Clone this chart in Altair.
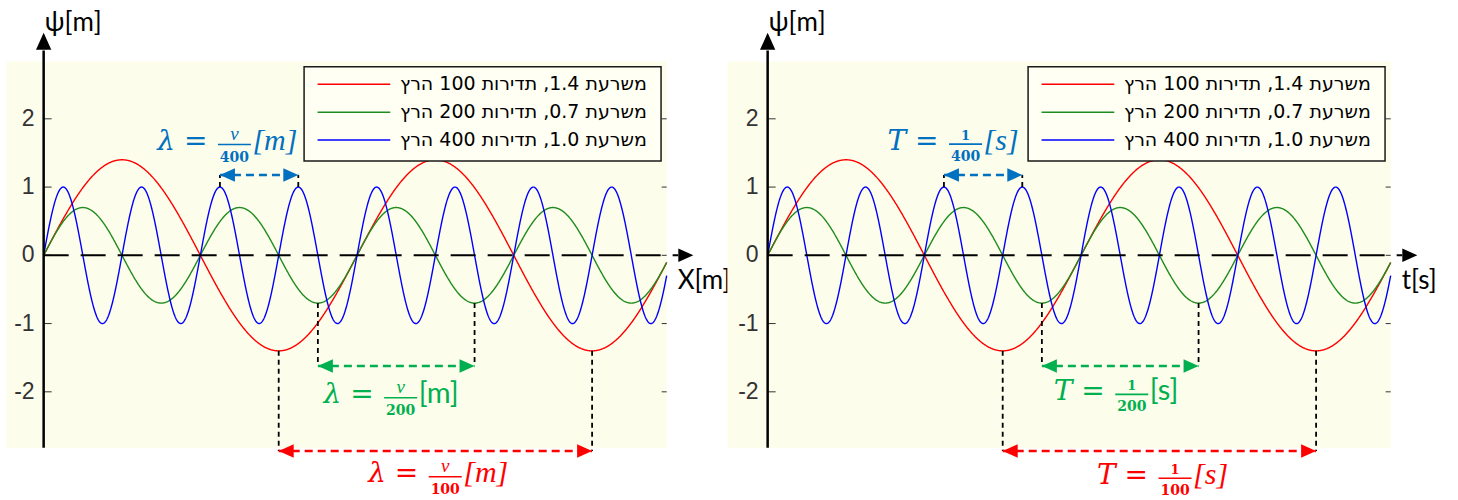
import numpy as np
import pandas as pd
import altair as alt

# ---- wave definitions -------------------------------------------------------
series = ["red", "green", "blue"]
amplitudes = [1.4, 0.7, 1.0]
frequencies = [100, 200, 400]
wave_colors = ["#FF0000", "#1E8C1E", "#0000FF"]
legend_labels = [
    "משרעת 1.4, תדירות 100 הרץ",
    "משרעת 0.7, תדירות 200 הרץ",
    "משרעת 1.0, תדירות 400 הרץ",
]
legend_rows_y = [2.506, 2.095, 1.689]

ytick_values = [-2, -1, 0, 1, 2]
ytick_labels = ["-2", "-1", "0", "1", "2"]

# ---- period / wavelength annotations ----------------------------------------
arrow_start = [0.005625, 0.00875, 0.0075]   # blue peak, green trough, red trough
arrow_end = [0.008125, 0.01375, 0.0175]
arrow_level = [1.177, -1.622, -2.867]
arrow_from = [1.0, -0.7, -1.4]               # curve extremum the connectors start at
arrow_colors = ["#0070C0", "#00B050", "#FF0000"]
denominators = ["400", "200", "100"]
unit_italic = [True, False, True]

label_x_left = [0.006088, 0.011391, 0.012814]
label_y_left = [1.623, -2.086, -3.244]
label_x_right = [0.006315, 0.011618, 0.0130]
label_y_right = [1.63, -2.037, -3.267]

# ---- layout constants --------------------------------------------------------
SEC_PER_PX = 1 / 31340
Y_DOMAIN = [-3.585, 3.741]
T_END = 0.01988
Y_LO, Y_HI = -2.82, 2.84
BG = "#FDFDEB"
SERIF = "Liberation Serif"
SANS = "Lato, 'Open Sans', sans-serif"

HEAD_LEFT = "M0,0L2,-0.9L2,0.9Z"
HEAD_RIGHT = "M0,0L-2,-0.9L-2,0.9Z"
HEAD_UP = "M0,0L-0.9,2L0.9,2Z"


def panel(kind, width, plot_left, lab_x, lab_y):
    x_min = -43.65 * SEC_PER_PX
    xs = alt.Scale(domain=[x_min, x_min + width * SEC_PER_PX], nice=False, zero=False)
    ys = alt.Scale(domain=Y_DOMAIN, nice=False, zero=False)

    def ex(f):
        return alt.X(f, type="quantitative", scale=xs, axis=None)

    def ey(f):
        return alt.Y(f, type="quantitative", scale=ys, axis=None)

    nocol = lambda f: alt.Color(f, type="nominal", scale=None, legend=None)
    layers = []

    # plot background
    bg = pd.DataFrame({"x1": [plot_left], "x2": [T_END], "y1": [Y_LO], "y2": [Y_HI]})
    layers.append(alt.Chart(bg).mark_rect(color=BG).encode(
        x=ex("x1"), x2="x2", y=ey("y1"), y2="y2"))

    # tick marks and tick labels
    ticks = pd.DataFrame({"y": ytick_values, "xl": 0.0, "xr": T_END, "lab": ytick_labels})
    layers.append(alt.Chart(ticks).mark_rule(color="#333333", strokeWidth=1, x2Offset=8).encode(
        x=ex("xl"), x2="xl", y=ey("y")))
    layers.append(alt.Chart(ticks).mark_rule(color="#333333", strokeWidth=1, x2Offset=-5).encode(
        x=ex("xr"), x2="xr", y=ey("y")))
    layers.append(alt.Chart(ticks).mark_text(
        align="right", baseline="middle", dx=-9, fontSize=23,
        font="Liberation Sans", color="#333333").encode(
        x=ex("xl"), y=ey("y"), text="lab:N"))

    # the three waves
    t = np.linspace(0, T_END, 1400)
    for A, f, c in zip(amplitudes, frequencies, wave_colors):
        df = pd.DataFrame({"t": t, "psi": A * np.sin(2 * np.pi * f * t)})
        layers.append(alt.Chart(df).mark_line(color=c, strokeWidth=1.4).encode(
            x=ex("t"), y=ey("psi")))

    # legend box
    box = pd.DataFrame({"x1": [0.00831], "x2": [0.01970], "y1": [1.382], "y2": [2.763]})
    layers.append(alt.Chart(box).mark_rect(fill="#FFFFF4", stroke="#1A1A1A", strokeWidth=1.5).encode(
        x=ex("x1"), x2="x2", y=ey("y1"), y2="y2"))
    leg = pd.DataFrame({"x1": 0.00874, "x2": 0.01106, "xt": 0.01925,
                        "y": legend_rows_y, "col": wave_colors, "lab": legend_labels})
    layers.append(alt.Chart(leg).mark_rule(strokeWidth=1.5).encode(
        x=ex("x1"), x2="x2", y=ey("y"), color=nocol("col")))
    layers.append(alt.Chart(leg).mark_text(
        align="right", baseline="middle", font="DejaVu Sans", fontSize=19, color="black").encode(
        x=ex("xt"), y=ey("y"), text="lab:N"))

    # axes drawn as arrows
    yaxis = pd.DataFrame({"x": [0.0], "y1": [Y_LO], "y2": [3.0], "yt": [3.26]})
    layers.append(alt.Chart(yaxis).mark_rule(color="black", strokeWidth=2.5).encode(
        x=ex("x"), y=ey("y1"), y2="y2"))
    layers.append(alt.Chart(yaxis).mark_point(
        shape=HEAD_UP, size=289, filled=True, color="black", opacity=1, strokeWidth=0).encode(
        x=ex("x"), y=ey("yt")))
    xaxis = pd.DataFrame({"x1": [0.0], "x2": [0.02025], "xt": [0.02073], "y": [0.0]})
    layers.append(alt.Chart(xaxis).mark_rule(color="black", strokeWidth=2, strokeDash=[25, 12]).encode(
        x=ex("x1"), x2="x2", y=ey("y")))
    layers.append(alt.Chart(xaxis).mark_point(
        shape=HEAD_RIGHT, size=225, filled=True, color="black", opacity=1, strokeWidth=0).encode(
        x=ex("xt"), y=ey("y")))

    # axis titles
    titles = pd.DataFrame({"x": [0.0, 0.0202], "y": [3.40, -0.37],
                           "lab": ["ψ[m]", "X[m]" if kind == "x" else "t[s]"]})
    layers.append(alt.Chart(titles).mark_text(
        align="left", baseline="middle", dx=1, font=SANS, fontSize=26, color="black").encode(
        x=ex("x"), y=ey("y"), text="lab:N"))

    # period arrows
    arr = pd.DataFrame({"x1": arrow_start, "x2": arrow_end, "y": arrow_level,
                        "yf": arrow_from, "col": arrow_colors})
    conn = pd.DataFrame({"x": arrow_start + arrow_end, "y": arrow_level * 2, "yf": arrow_from * 2})
    layers.append(alt.Chart(conn).mark_rule(color="black", strokeWidth=1.8, strokeDash=[5, 4]).encode(
        x=ex("x"), y=ey("yf"), y2="y"))
    layers.append(alt.Chart(arr).mark_rule(strokeWidth=2.5, strokeDash=[8, 5]).encode(
        x=ex("x1"), x2="x2", y=ey("y"), color=nocol("col")))
    layers.append(alt.Chart(arr).mark_point(
        shape=HEAD_LEFT, size=225, filled=True, opacity=1, strokeWidth=0).encode(
        x=ex("x1"), y=ey("y"), color=nocol("col")))
    layers.append(alt.Chart(arr).mark_point(
        shape=HEAD_RIGHT, size=225, filled=True, opacity=1, strokeWidth=0).encode(
        x=ex("x2"), y=ey("y"), color=nocol("col")))

    # formula labels: symbol =  numerator / denominator [unit]
    sym = "λ =" if kind == "x" else "T ="
    num = "v" if kind == "x" else "1"
    unit = "[m]" if kind == "x" else "[s]"
    lab = pd.DataFrame({"x": lab_x, "y": lab_y, "col": arrow_colors, "den": denominators,
                        "it": unit_italic, "sym": sym, "num": num, "unit": unit})
    base = alt.Chart(lab)
    layers.append(base.mark_text(
        align="right", baseline="alphabetic", dx=-27, dy=5.5, font="DejaVu Serif",
        fontStyle="italic", fontSize=28).encode(
        x=ex("x"), y=ey("y"), text="sym:N", color=nocol("col")))
    layers.append(base.mark_rule(strokeWidth=1.6, xOffset=-16.5, x2Offset=16.5).encode(
        x=ex("x"), x2="x", y=ey("y"), color=nocol("col")))
    if kind == "x":
        layers.append(base.mark_text(
            align="center", baseline="alphabetic", dy=-5, font=SERIF,
            fontStyle="italic", fontSize=19).encode(
            x=ex("x"), y=ey("y"), text="num:N", color=nocol("col")))
    else:
        layers.append(base.mark_text(
            align="center", baseline="alphabetic", dy=-4, font="DejaVu Serif",
            fontWeight="bold", fontSize=13).encode(
            x=ex("x"), y=ey("y"), text="num:N", color=nocol("col")))
    layers.append(base.mark_text(
        align="center", baseline="alphabetic", dy=17, font="DejaVu Serif",
        fontWeight="bold", fontSize=14).encode(
        x=ex("x"), y=ey("y"), text="den:N", color=nocol("col")))
    layers.append(base.transform_filter("datum.it").mark_text(
        align="left", baseline="alphabetic", dx=18, dy=5.5, font=SERIF,
        fontStyle="italic", fontSize=30).encode(
        x=ex("x"), y=ey("y"), text="unit:N", color=nocol("col")))
    layers.append(base.transform_filter("!datum.it").mark_text(
        align="left", baseline="alphabetic", dx=18, dy=5.5, font=SANS,
        fontSize=29).encode(
        x=ex("x"), y=ey("y"), text="unit:N", color=nocol("col")))

    return alt.layer(*layers).properties(width=width, height=500)


left = panel("x", 724, -0.001187, label_x_left, label_y_left)
right = panel("t", 734, -0.001286, label_x_right, label_y_right)

chart = (
    alt.hconcat(left, right, spacing=0, bounds="flush")
    .properties(padding=0)
    .configure_view(stroke=None)
)

chart.save("out.html", embed_options={"renderer": "svg", "actions": False})
